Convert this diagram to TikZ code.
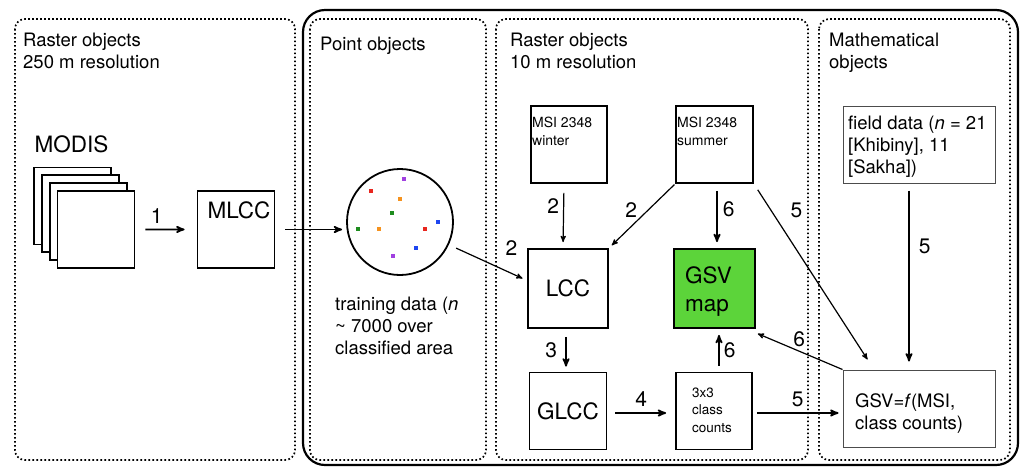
\documentclass[tikz,border=0pt]{standalone}
\usepackage{fontspec}
\setmainfont{TeX Gyre Heros}
\usetikzlibrary{calc,positioning,arrows,shapes.geometric}
\definecolor{gsvgreen}{RGB}{92,212,58}
\definecolor{dred}{RGB}{232,38,30}
\definecolor{dorange}{RGB}{245,146,30}
\definecolor{dgreen}{RGB}{30,140,30}
\definecolor{dblue}{RGB}{30,70,240}
\definecolor{dpurple}{RGB}{160,64,224}
\tikzset{
    >=stealth',
    panel/.style={
        draw, line width=1.7pt,
        dash pattern=on 1.7pt off 2.3pt,
        rounded corners=10pt
    },
    boxnode/.style={
        rectangle,
        draw, line width=1.8pt,
        fill=white,
        minimum width=77pt,
        minimum height=77pt,
        inner sep=0pt,
        font={\fontsize{22.5pt}{28}\selectfont}
    },
    thinbox/.style={
        rectangle,
        draw=black!70, line width=1pt,
        minimum width=152pt,
        minimum height=77pt,
        inner sep=0pt
    },
    flow/.style={draw, line width=1.8pt, ->},
    thinflow/.style={draw, line width=1.2pt, ->},
    numlab/.style={font={\fontsize{21pt}{24}\selectfont}, inner sep=1pt},
    title/.style={anchor=base west, align=left, inner sep=0pt,
        font={\fontsize{18.5pt}{22}\selectfont}},
    smalltxt/.style={anchor=base west, align=left, inner sep=0pt,
        font={\fontsize{14pt}{18}\selectfont}},
    bigtxt/.style={anchor=base, inner sep=0pt,
        font={\fontsize{22.5pt}{28}\selectfont}},
}

\begin{document}
\begin{tikzpicture}[x=1pt,y=-1pt]
\useasboundingbox (0,0) rectangle (1030,467);
% frames
\draw[line width=2.2pt, rounded corners=22pt] (303,10) rectangle (1018,465);
\draw[panel] (15,19) rectangle (295,460);
\draw[panel] (310,19) rectangle (486,460);
\draw[panel] (496,19) rectangle (808,460);
\draw[panel] (819,19) rectangle (1010,460);
\node[title] (rast250) at (23,68) {Raster objects\\250 m resolution};
\node[title] (pointobj) at (320,50) {Point objects};
\node[title] (rast10) at (510,68) {Raster objects\\10 m resolution};
\node[title] (mathobj) at (829,68) {Mathematical\\objects};

% 250 m
\node[bigtxt] (modis) at (71.5,152) {MODIS};
\foreach \i in {0,...,3}
    \node[boxnode] (m\i) at ({72.5+7.8*\i},{206+7.8*\i}) {};
\node[boxnode] (mlcc) at (236,229.5) {};
\node[bigtxt] (mlcctxt) at (239,218) {MLCC};

% points
\node[circle, draw, line width=1.8pt, minimum size=106pt, inner sep=0pt] (pts) at (400,222) {};
\foreach \dx/\dy/\c in {4/-43/dpurple, -29/-31/dred, 0/-23/dorange,
    -8/-9/dgreen, 38/0/dblue, -42/7/dgreen, -21/7/dorange, 25/7/dred,
    16/26/dblue, -7/34/dpurple}
    \fill[\c] ($(pts)+(\dx,\dy)+(-2,-2)$) rectangle +(4,4);
\node[title] (train) at (335,354) {training data (\textit{n}\\\textasciitilde{} 7000 over\\classified area};

% 10 m
\node[boxnode, minimum width=76pt] (winter) at (569,144.5) {};
\node[smalltxt] (wintertxt) at (532,145) {MSI 2348\\winter};
\node[boxnode] (summer) at (714.5,144.5) {};
\node[smalltxt] (summertxt) at (677,145) {MSI 2348\\summer};
\node[boxnode, minimum width=80pt, minimum height=79pt] (lcc) at (568,288.5) {LCC};
\node[boxnode, minimum width=81pt, minimum height=79pt, fill=gsvgreen] (gsv) at (714.5,288.5) {};
\node[title, font={\fontsize{22.5pt}{28}\selectfont}] (gsvtxt) at (685,311) {GSV\\map};
\node[boxnode] (glcc) at (568,411) {GLCC};
\node[boxnode, minimum width=76pt] (counts) at (714,411) {};
\node[smalltxt, font={\fontsize{13.5pt}{17.5}\selectfont}] (countstxt) at (692,432) {3x3\\class\\counts};

% maths
\node[thinbox] (field) at (919,144.5) {};
\node[title] (fieldtxt) at (848,173) {field data (\textit{n} = 21\\{[Khibiny], 11}\\{[Sakha])}};
\node[thinbox] (gsvf) at (919,408.5) {};
\node[title] (gsvftxt) at (855,429) {GSV=\textit{f}(MSI,\\class counts)};

% arrows
\coordinate (c5) at ($(counts.east)+(0,2)$);
\draw[flow, shorten <=10pt, shorten >=12pt] (m3.east) -- (mlcc.west)
    node[numlab, pos=.35, above=4pt] {1};
\draw[flow, shorten <=10pt, shorten >=4pt] (mlcc.east) -- (mlcc.east -| pts.west);
\draw[thinflow, shorten <=8pt, shorten >=5pt] (pts.-25) -- ($(lcc.west)+(0,-8)$)
    node[numlab, pos=.8, above=16pt] {2};
\draw[thinflow, shorten <=9pt, shorten >=6pt] ($(winter.south)+(-5,0)$) -- ($(lcc.north)+(-5,0)$)
    node[numlab, pos=.35, left=3pt] {2};
\draw[thinflow, shorten <=1pt, shorten >=4pt] (summer.south west) -- (lcc.north east)
    node[numlab, pos=.4, left=10pt] {2};
\draw[flow, shorten <=7pt, shorten >=6pt] ($(summer.south)+(2.5,0)$) -- ($(gsv.north)+(2.5,0)$)
    node[numlab, pos=.4, right=4pt] {6};
\draw[thinflow, shorten <=7pt] (summer.south east) -- ($(gsvf.north west)+(25,-10)$)
    node[numlab, pos=.15, right=18pt] {5};
\draw[flow, shorten <=8pt, shorten >=5pt] ($(lcc.south)+(-2,0)$) -- ($(glcc.north)+(-2,0)$)
    node[numlab, midway, left=7pt] {3};
\draw[flow, shorten <=8pt, shorten >=9pt] ($(glcc.east)+(0,2)$) -- ($(counts.west)+(0,2)$)
    node[numlab, midway, above=5pt] {4};
\draw[flow, shorten <=6pt, shorten >=6pt] ($(counts.north)+(5,0)$) -- ($(gsv.south)+(4.5,0)$)
    node[numlab, midway, right=3pt] {6};
\draw[flow, shorten <=4pt, shorten >=4pt] (c5) -- (c5 -| gsvf.west)
    node[numlab, midway, above=4pt] {5};
\draw[thinflow, shorten >=2pt] (gsvf.north west) -- ($(gsv.south east)+(0,4)$)
    node[numlab, midway, above=3pt] {6};
\draw[flow, shorten <=7pt, shorten >=8pt] ($(field.south)+(-10,0)$) -- ($(gsvf.north)+(-10,0)$)
    node[numlab, pos=.34, right=8pt] {5};
\end{tikzpicture}
\end{document}
